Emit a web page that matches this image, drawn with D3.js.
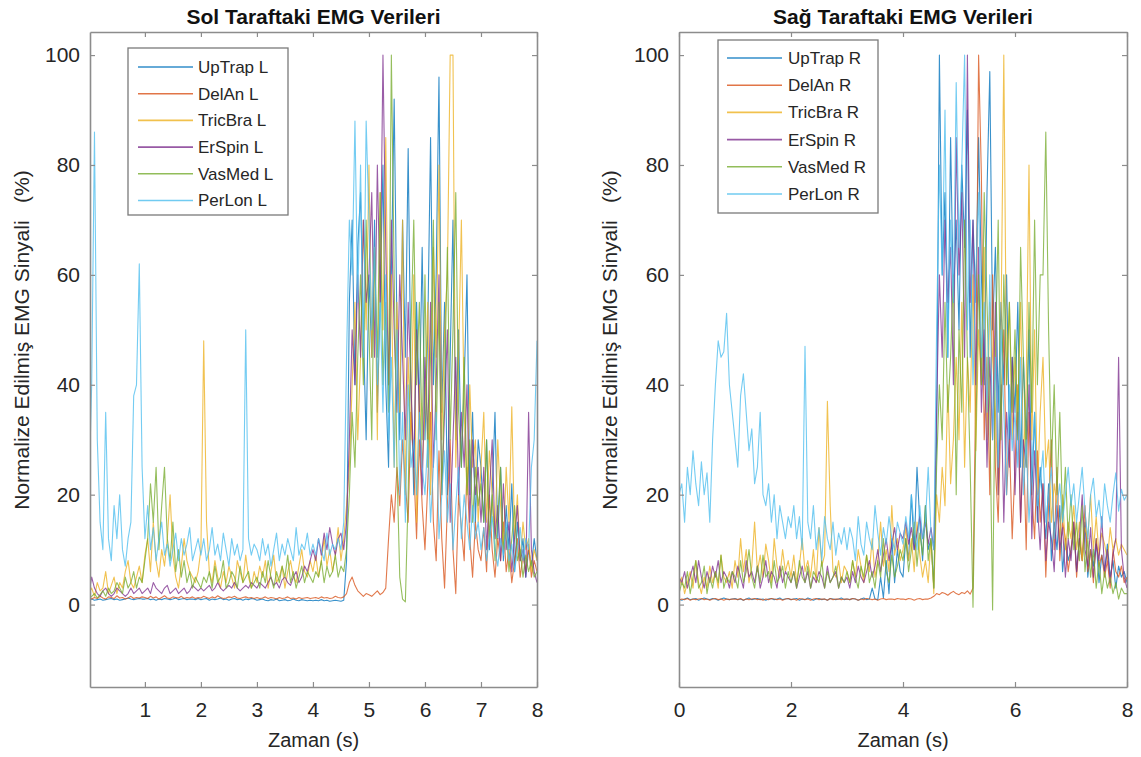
<!DOCTYPE html>
<html>
<head>
<meta charset="utf-8">
<script src="https://cdn.jsdelivr.net/npm/d3@7"></script>
<style>
body { margin: 0; background: #ffffff; }
text { font-family: "Liberation Sans", Arial, Helvetica, sans-serif; }
</style>
</head>
<body>
<div id="chart"></div>
<script>
// sample spacing of every series (s)
var step = 0.05;
var namesL = ['UpTrap L', 'DelAn L', 'TricBra L', 'ErSpin L', 'VasMed L', 'PerLon L'];
var namesR = ['UpTrap R', 'DelAn R', 'TricBra R', 'ErSpin R', 'VasMed R', 'PerLon R'];
var colors = ['#0072BD', '#D95319', '#EDB120', '#7E2F8E', '#77AC30', '#4DBEEE'];
var yTicks = [0, 20, 40, 60, 80, 100];
var xTicksL = [1, 2, 3, 4, 5, 6, 7, 8];
var xTicksR = [0, 2, 4, 6, 8];

// sol taraf (left side), one row = 1 s
var upTrapL = [
  1,1,0.8,0.9,1,0.8,0.9,1,1.1,0.9,1,0.8,0.9,1,1.2,1,0.9,1,1.1,1,
  1,1.1,0.9,1,0.8,1,0.9,1.1,1,0.9,1,1.2,0.9,1,1.1,0.9,1,1,0.9,1.1,
  0.9,1,1.1,0.8,1,0.9,1,1.2,0.9,1,0.8,1,1.1,0.9,1,0.8,1,0.9,1.1,1,
  0.8,0.9,1,0.8,0.7,0.9,0.8,1,0.7,0.8,0.9,0.7,0.8,1,0.8,0.7,0.9,0.8,0.7,0.8,
  0.7,0.8,0.7,0.9,0.7,0.8,0.6,0.7,0.8,0.7,0.6,0.8,8,55,70,40,65,75,50,30,
  60,45,70,35,55,80,40,25,60,92,50,30,70,45,83,40,20,55,35,65,
  30,50,85,40,60,96,35,55,20,45,70,30,50,25,40,60,20,35,15,30,
  25,15,30,10,20,35,12,25,8,18,10,22,6,15,8,12,5,10,7,12,
  8];
var delAnL = [
  1.2,1,1.3,1.1,1.5,1.2,1,1.4,1.3,1.1,1.6,1.2,1.3,1,1.2,1.5,1.1,1.3,1.2,1.4,
  1.3,1.1,1.5,1.2,1.4,1,1.3,1.6,1.2,1.1,1.4,1.3,1.2,1.5,1.1,1.3,1.2,1.4,1.1,1.3,
  1.2,1.5,1.3,1.1,1.4,1.2,1.6,1.3,1.1,1.2,1.4,1.3,1.5,1.2,1.1,1.3,1.4,1.2,1.3,1.1,
  1.3,1.1,1.2,1.4,1.1,1.3,1.2,1,1.3,1.1,1.2,1.4,1.1,1.2,1,1.3,1.1,1.2,1.3,1.1,
  1.2,1.3,1.1,1.4,1.2,1.3,1.1,1.2,1.5,1.3,1.2,1.4,2,4,5,3.5,2.5,2,1.5,2,
  1.8,1.5,2,2.5,1.8,2.2,3,12,20,15,25,18,30,22,15,35,25,12,30,18,
  10,22,35,15,8,28,12,3,18,30,10,2,20,14,8,25,12,5,15,10,
  8,14,6,20,10,5,12,8,15,6,10,4,8,12,5,9,6,11,5,8,
  6];
var tricBraL = [
  2,3,1.5,4,2.5,3,6,2,3.5,5,2,4,3,6,8,4,3,5,7,4,
  9,12,6,15,8,5,10,7,12,20,9,5,3,7,12,8,6,5,4,6,
  10,48,15,6,4,8,5,3,6,4,7,5,3,8,6,4,9,5,3,6,
  4,7,5,8,3,6,9,4,5,7,3,6,8,5,4,7,10,6,5,8,
  6,9,5,8,12,7,10,6,9,14,8,12,18,25,40,55,30,45,70,50,
  80,45,65,30,75,50,85,40,60,25,55,35,70,20,45,30,60,15,40,25,
  35,55,20,65,45,80,30,50,60,100,100,25,45,70,35,20,40,25,30,15,
  25,35,15,28,20,12,30,18,10,25,15,36,12,20,8,15,10,12,6,10,
  8];
var erSpinL = [
  2,5,3,2,1.5,2.5,3,2,1.5,2,3,2.5,2,1.5,2,3,2,2.5,3,2,
  2.5,3,2,4,3,2.5,2,3,3.5,2,2.5,3,2,2.5,3,2,2.5,3.5,3,2.5,
  3,2.5,3,3.5,2.5,3,4,3,2.5,3,3.5,3,4,3,2.5,3,3.5,3,4,3.5,
  3,4,3.5,3,4,5,3.5,4,3,4.5,5,4,3.5,5,6,4,5,7,6,8,
  10,8,12,9,13,10,14,11,9,12,13,10,15,30,50,40,60,45,70,55,
  60,75,45,80,55,100,65,40,70,50,35,60,45,30,55,40,25,50,35,20,
  45,30,55,25,40,60,20,35,50,15,30,45,20,35,25,40,15,30,20,25,
  15,25,10,20,30,12,18,8,22,10,15,6,12,18,8,10,5,35,10,6,
  4];
var vasMedL = [
  1,1.5,2,1.2,1.8,2.5,1.5,3,2,2.5,4,3,2,5,3,4,6,3,5,4,
  8,12,22,15,25,10,18,25,12,8,15,6,10,5,8,4,6,3,5,4,
  3,5,4,6,3,7,4,5,8,3,4,6,5,3,7,4,5,6,3,4,
  5,3,6,4,8,5,3,6,4,7,5,9,4,6,3,5,7,4,6,5,
  4,6,5,8,4,7,5,6,9,5,7,6,10,20,35,25,45,60,40,70,
  50,30,65,45,75,40,55,35,100,60,25,5,1,0.5,20,50,70,40,55,30,
  60,25,45,70,30,55,20,40,65,30,50,75,35,25,45,20,30,15,25,18,
  22,15,30,12,20,8,16,25,10,14,6,12,18,8,10,5,9,6,8,5,
  6];
var perLonL = [
  20,40,86,30,15,10,35,12,8,18,12,20,10,7,12,15,38,40,62,25,
  12,18,10,14,8,12,15,9,11,7,10,13,8,12,9,11,14,8,10,12,
  9,12,8,10,14,9,11,8,13,10,7,12,9,11,8,10,50,12,9,11,
  10,8,12,9,11,7,10,13,8,11,9,12,10,8,14,9,11,10,13,9,
  11,9,12,10,8,13,9,11,10,12,10,15,45,70,60,88,55,80,45,88,
  70,50,65,40,55,35,60,30,45,25,50,20,35,15,40,25,30,20,35,25,
  20,30,15,25,35,12,20,28,15,22,10,18,25,12,20,15,10,18,12,15,
  10,14,8,12,16,10,7,12,9,15,8,11,6,10,14,8,12,10,25,30,
  48];

// sag taraf (right side)
var upTrapR = [
  1,0.8,1,1.2,0.9,1,1.1,0.8,1,1.2,1,0.9,1.1,1,0.8,1,1.2,1,0.9,1,
  1.1,0.9,1,0.8,1,1.2,0.9,1,1.1,0.9,1,0.8,1,1.1,0.9,1,1.2,0.9,1,1.1,
  0.9,1,1.1,0.8,1,0.9,1.2,1,0.8,1,1.1,0.9,1,0.8,1.1,1,0.9,1,1.2,0.9,
  1,0.9,1.1,1,0.8,1,1.2,0.9,1,3,1,0.9,5,1.2,8,2,12,4,10,6,
  5,12,8,20,10,25,15,8,18,10,12,3,30,100,60,75,45,85,55,70,
  50,80,65,90,45,70,55,85,60,40,75,97,50,65,35,55,40,60,30,45,
  35,55,25,45,30,50,20,35,15,25,18,12,22,8,15,10,18,6,12,8,
  10,14,6,12,8,15,5,10,7,12,4,9,6,11,5,8,3,7,5,6,
  4];
var delAnR = [
  0.8,1,0.9,1.1,0.8,1,0.9,1,1.1,0.9,1,0.8,1,1.1,0.9,1,0.8,1,0.9,1,
  1,0.9,1.1,0.8,1,0.9,1,1.1,0.9,1,0.8,1,0.9,1.1,1,0.9,1,0.8,1,1.1,
  0.9,1,0.8,1.1,1,0.9,1,0.8,1,1.1,0.9,1,1,0.8,1.1,0.9,1,1,0.9,1,
  1,0.9,1.1,1,0.8,1,0.9,1.1,1,0.9,1,0.8,1,1.1,0.9,1,1,0.9,1.1,1,
  1,0.9,1.1,1,0.8,1,1.1,0.9,1,1,1.2,1.5,2,1.8,2.2,2,1.7,2.1,2.4,2,
  1.8,2.2,2,2.5,1.9,3,40,100,78,30,45,20,60,25,15,35,50,20,30,12,
  25,40,15,30,10,35,20,12,28,15,22,5,18,30,10,25,8,15,12,6,
  10,15,5,12,8,18,6,10,4,12,7,9,5,8,3,10,6,5,7,4,
  5];
var tricBraR = [
  3,5,2,4,6,3,8,4,2,5,3,7,4,6,3,9,5,4,6,3,
  8,5,12,6,10,4,7,15,6,9,5,11,8,4,12,7,5,10,6,8,
  5,9,4,7,12,6,8,5,10,4,14,7,9,37,18,6,5,8,4,7,
  6,4,8,5,10,7,4,9,6,12,5,8,15,7,10,6,18,9,12,8,
  10,14,8,12,6,15,9,5,8,4,12,2,20,15,25,18,40,22,30,45,
  30,55,25,45,35,60,28,50,40,65,30,55,45,35,20,50,100,40,55,30,
  45,35,55,25,40,80,30,50,20,35,45,25,30,15,22,18,12,20,10,15,
  12,18,10,15,8,14,12,20,10,16,9,13,11,8,14,10,12,9,11,10,
  9];
var erSpinR = [
  5,4,6,3,5,7,4,8,5,3,6,4,7,5,8,4,6,5,3,6,
  4,7,5,3,8,5,6,4,7,3,5,8,4,6,5,3,7,4,6,5,
  4,6,3,5,7,4,6,3,5,4,6,5,3,7,4,5,6,3,5,4,
  5,3,6,4,7,5,4,6,8,5,7,10,6,9,12,8,11,14,10,13,
  12,15,11,14,10,13,16,12,15,11,14,10,35,60,45,70,55,65,40,85,
  60,75,45,100,55,70,40,65,35,50,25,45,30,55,20,40,15,35,25,45,
  20,35,15,30,25,40,12,28,18,10,22,8,15,12,6,18,10,14,5,12,
  8,15,6,12,20,10,7,14,5,11,8,16,6,10,4,9,12,45,10,5,
  3];
var vasMedR = [
  2,4,3,6,2,5,8,3,4,7,2,5,3,6,4,9,3,5,4,6,
  5,3,8,4,6,10,5,3,7,4,9,5,6,3,8,4,5,7,3,6,
  4,6,3,8,5,4,7,3,6,5,4,8,3,6,4,5,7,3,5,4,
  6,4,8,5,3,7,5,9,4,6,3,8,5,12,6,4,9,5,7,10,
  8,12,6,10,15,7,13,9,18,8,12,3,25,40,30,55,35,45,60,20,
  50,35,70,45,25,-0.5,30,60,40,75,55,35,-1,45,70,30,60,40,55,35,
  50,30,65,45,25,55,35,70,40,60,60,86,50,25,40,20,35,15,25,12,
  20,10,15,8,18,6,12,5,10,3,8,2,6,3,5,2,4,1,3,2,
  2];
var perLonR = [
  20,22,15,25,20,28,22,18,26,20,24,15,30,40,48,45,46,53,40,35,
  30,25,38,42,35,28,32,22,25,35,20,18,22,15,20,12,18,15,12,16,
  14,18,12,16,10,47,15,12,18,10,14,8,16,12,10,15,9,13,11,14,
  10,14,12,8,16,11,9,15,12,10,18,13,9,14,11,16,12,10,15,13,
  11,16,12,20,14,10,18,12,15,25,13,10,50,80,60,90,45,70,55,95,
  65,80,100,50,70,40,60,75,45,55,35,60,30,45,25,50,35,20,40,28,
  35,25,45,20,30,15,25,35,18,22,28,15,20,25,12,18,22,15,20,25,
  18,22,15,20,25,17,12,20,23,16,19,14,22,18,15,20,24,17,21,19,
  20];

var svg = d3.select('#chart').append('svg')
  .attr('width', 1141)
  .attr('height', 757)
  .style('background', '#ffffff');

drawPanel({
  id: 'sol', left: 90, right: 537, top: 32, bottom: 687,
  xDomain: [0.02, 8], xTicks: xTicksL,
  title: 'Sol Taraftaki EMG Verileri',
  series: [upTrapL, delAnL, tricBraL, erSpinL, vasMedL, perLonL],
  names: namesL,
  legend: {x: 128, y: 48, w: 160, h: 167, y0: 67, dy: 26.7, l0: 138, l1: 193, tx: 198},
  ylabX: 22
});
drawPanel({
  id: 'sag', left: 679, right: 1127, top: 32, bottom: 687,
  xDomain: [0, 8], xTicks: xTicksR,
  title: 'Sağ Taraftaki EMG Verileri',
  series: [upTrapR, delAnR, tricBraR, erSpinR, vasMedR, perLonR],
  names: namesR,
  legend: {x: 718, y: 40, w: 160, h: 173, y0: 58, dy: 27.2, l0: 727, l1: 782, tx: 788},
  ylabX: 610
});

function drawPanel(c) {
  var x = d3.scaleLinear().domain(c.xDomain).range([c.left, c.right]);
  var y = d3.scaleLinear().domain([-15, 104.2]).range([c.bottom, c.top]);
  var g = svg.append('g').attr('id', c.id);

  g.append('clipPath').attr('id', 'clip-' + c.id)
    .append('rect')
    .attr('x', c.left).attr('y', c.top)
    .attr('width', c.right - c.left).attr('height', c.bottom - c.top);

  var line = d3.line()
    .x(function (d, i) { return x(i * step); })
    .y(function (d) { return y(d); });

  //lines, PerLon drawn last so it is on top
  g.append('g').attr('clip-path', 'url(#clip-' + c.id + ')')
    .selectAll('path')
    .data(c.series)
    .enter()
    .append('path')
    .attr('d', line)
    .attr('fill', 'none')
    .attr('stroke', function (d, i) { return colors[i]; })
    .attr('stroke-width', 1.1)
    .attr('stroke-opacity', 0.78)
    .attr('stroke-linejoin', 'round');

  //axes with inward ticks on all four sides
  var axL = g.append('g').attr('transform', 'translate(' + c.left + ',0)')
    .call(d3.axisLeft(y).tickValues(yTicks).tickSizeInner(-5).tickSizeOuter(0).tickPadding(10));
  var axB = g.append('g').attr('transform', 'translate(0,' + c.bottom + ')')
    .call(d3.axisBottom(x).tickValues(c.xTicks).tickSizeInner(-5).tickSizeOuter(0).tickPadding(15)
      .tickFormat(d3.format('d')));
  var axR = g.append('g').attr('transform', 'translate(' + c.right + ',0)')
    .call(d3.axisRight(y).tickValues(yTicks).tickSizeInner(-5).tickSizeOuter(0).tickFormat(''));
  var axT = g.append('g').attr('transform', 'translate(0,' + c.top + ')')
    .call(d3.axisTop(x).tickValues(c.xTicks).tickSizeInner(-5).tickSizeOuter(0).tickFormat(''));
  [axL, axB, axR, axT].forEach(function (a) {
    a.select('.domain').attr('stroke', '#8c8c8c').attr('stroke-width', 1.6);
    a.selectAll('.tick line').attr('stroke', '#8c8c8c').attr('stroke-width', 1.2);
    a.selectAll('.tick text')
      .attr('fill', '#262626')
      .style('font-size', '21px')
      .style('font-family', '"Liberation Sans", Arial, sans-serif');
  });

  //title and labels
  g.append('text')
    .attr('x', (c.left + c.right) / 2)
    .attr('y', 24)
    .attr('text-anchor', 'middle')
    .attr('fill', '#111')
    .style('font-size', '21px')
    .style('font-weight', 'bold')
    .text(c.title);
  g.append('text')
    .attr('x', (c.left + c.right) / 2)
    .attr('y', 747)
    .attr('text-anchor', 'middle')
    .attr('fill', '#262626')
    .style('font-size', '20px')
    .text('Zaman (s)');
  g.append('text')
    .attr('transform', 'translate(' + (c.ylabX + 7) + ',340) rotate(-90)')
    .attr('text-anchor', 'middle')
    .attr('fill', '#262626')
    .style('font-size', '21px')
    .style('white-space', 'pre')
    .text('Normalize Edilmiş EMG Sinyali   (%)');

  //legend
  var lg = c.legend;
  var leg = g.append('g');
  leg.append('rect')
    .attr('x', lg.x).attr('y', lg.y)
    .attr('width', lg.w).attr('height', lg.h)
    .attr('fill', '#ffffff')
    .attr('stroke', '#7a7a7a')
    .attr('stroke-width', 1.3);
  var item = leg.selectAll('.item')
    .data(c.names)
    .enter()
    .append('g')
    .attr('class', 'item');
  item.append('line')
    .attr('x1', lg.l0).attr('x2', lg.l1)
    .attr('y1', function (d, i) { return lg.y0 + i * lg.dy; })
    .attr('y2', function (d, i) { return lg.y0 + i * lg.dy; })
    .attr('stroke', function (d, i) { return colors[i]; })
    .attr('stroke-width', 1.6)
    .attr('stroke-opacity', 0.8);
  item.append('text')
    .attr('x', lg.tx)
    .attr('y', function (d, i) { return lg.y0 + i * lg.dy; })
    .attr('dy', '0.35em')
    .attr('fill', '#262626')
    .style('font-size', '17px')
    .text(function (d) { return d; });
}
</script>
</body>
</html>
